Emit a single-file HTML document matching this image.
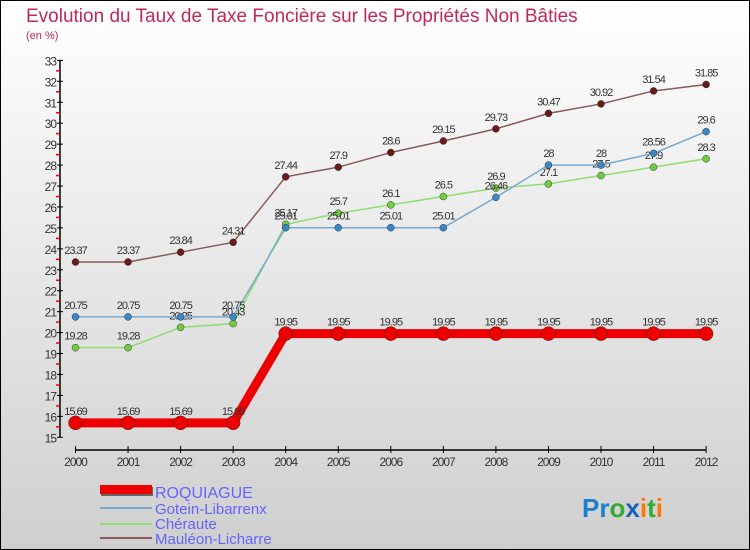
<!DOCTYPE html>
<html><head><meta charset="utf-8"><style>
body{margin:0}
#wrap{position:relative;width:750px;height:550px;box-sizing:border-box;border:1px solid #000;background:linear-gradient(#ffffff,#cfcfcf);font-family:"Liberation Sans",sans-serif;overflow:hidden}
</style></head><body>
<div id="wrap">
<svg id="c" width="750" height="550" style="position:absolute;left:-1px;top:-1px">
<text x="26" y="22" font-size="19" fill="#c0285a">Evolution du Taux de Taxe Foncière sur les Propriétés Non Bâties</text>
<text x="26" y="39" font-size="11" fill="#c0285a">(en %)</text>
<g id="axes"></g><g id="series"></g>
<g>
<rect x="101" y="487" width="52" height="9" fill="#666"/><rect x="100" y="485" width="52" height="9" fill="#ee0000"/>
<text x="155" y="498" font-size="16" fill="#6464ff">ROQUIAGUE</text>
<line x1="100" y1="508" x2="152" y2="508" stroke="#7aaad0" stroke-width="2"/>
<text x="155" y="514" font-size="15" fill="#6464ff">Gotein-Libarrenx</text>
<line x1="100" y1="524" x2="152" y2="524" stroke="#90dd70" stroke-width="2"/>
<text x="155" y="529" font-size="15" fill="#6464ff">Chéraute</text>
<line x1="100" y1="538" x2="152" y2="538" stroke="#8b5a5a" stroke-width="2"/>
<text x="155" y="544" font-size="15" fill="#6464ff">Mauléon-Licharre</text>
</g>
<text x="582" y="517" font-size="26" font-weight="bold"><tspan fill="#1a7fd0">Pr</tspan><tspan fill="#33aa33">o</tspan><tspan fill="#1a60c0">x</tspan><tspan fill="#ff7700">i</tspan><tspan fill="#33aa33">t</tspan><tspan fill="#ff7700">i</tspan></text>
</svg></div>
<script>
const years=[2000,2001,2002,2003,2004,2005,2006,2007,2008,2009,2010,2011,2012];
const roquiague=[15.69,15.69,15.69,15.69,19.95,19.95,19.95,19.95,19.95,19.95,19.95,19.95,19.95];
const gotein=[20.75,20.75,20.75,20.75,25.01,25.01,25.01,25.01,26.46,28,28,28.56,29.6];
const cheraute=[19.28,19.28,20.25,20.43,25.17,25.7,26.1,26.5,26.9,27.1,27.5,27.9,28.3];
const mauleon=[23.37,23.37,23.84,24.31,27.44,27.9,28.6,29.15,29.73,30.47,30.92,31.54,31.85];
const yTicks=[15,16,17,18,19,20,21,22,23,24,25,26,27,28,29,30,31,32,33];
const NS="http://www.w3.org/2000/svg";
const X=i=>75.5+i*52.55, Y=v=>437.3-(v-15)*20.94;
function mk(t,a,p){const e=document.createElementNS(NS,t);for(const k in a)e.setAttribute(k,a[k]);p.appendChild(e);return e;}
const ax=document.getElementById('axes'), sg=document.getElementById('series');
const yl=mk('line',{x1:60,y1:Y(33),x2:60,y2:Y(15),stroke:'#000','stroke-width':1.5},ax);


yTicks.forEach(v=>{
 mk('line',{x1:57,y1:Y(v),x2:63,y2:Y(v),stroke:'#000'},ax);
 if(v<33)mk('line',{x1:56,y1:Y(v+0.5),x2:60,y2:Y(v+0.5),stroke:'#e00','stroke-width':1.5},ax);
 const t=mk('text',{x:56,y:Y(v)+5,'text-anchor':'end','font-size':12,fill:'#333','letter-spacing':'-1'},ax);t.textContent=v;
 
 
});
const xl=mk('line',{x1:X(0),y1:450,x2:X(12),y2:450,stroke:'#000','stroke-width':1.5},ax);


years.forEach((y,i)=>{
 mk('line',{x1:X(i),y1:446,x2:X(i),y2:453,stroke:'#000'},ax);
 const t=mk('text',{x:X(i),y:466,'text-anchor':'middle','font-size':12,fill:'#333','letter-spacing':'-1'},ax);t.textContent=y;
 
 
});
function series(data,name,color,dot,w,r){
 const g=mk('g',{},sg);
 
 
 mk('polyline',{points:data.map((v,i)=>X(i)+','+Y(v)).join(' '),fill:'none',stroke:color,'stroke-width':w},g);
 data.forEach((v,i)=>{
  const c=mk('circle',{cx:X(i),cy:Y(v),r:r,fill:dot,stroke:'#333','stroke-width':0.5},g);
  
  
  const t=mk('text',{x:X(i),y:Y(v)-8,'text-anchor':'middle','font-size':11,fill:'#333','letter-spacing':'-1'},g);t.textContent=v;
  
  
 });
}
series(mauleon,'mauleon-series','#8b5a5a','#6b1a1a',1.5,3.5);
series(cheraute,'cheraute-series','#90dd70','#70cc40',1.5,3.5);
series(gotein,'gotein-series','#7aaad0','#3a88c8',1.5,3.5);
series(roquiague,'roquiague-series','#ee0000','#ee0000',9,7);
</script>
</body></html>
